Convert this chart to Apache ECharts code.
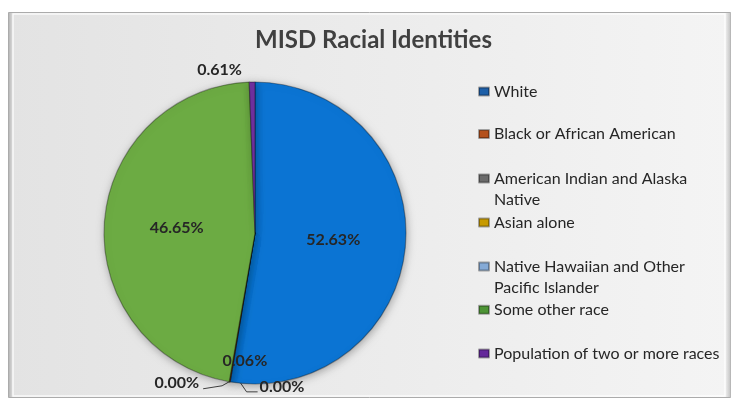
<!DOCTYPE html>
<html><head><meta charset="utf-8">
<script src="https://cdn.jsdelivr.net/npm/echarts@6/dist/echarts.min.js"></script>
<style>html,body{margin:0;padding:0;background:#fff}#c{width:732px;height:400px}</style>
</head><body><div id="c"></div>
<script>
// ---- data ----
const chartTitle = 'MISD Racial Identities';
const categories = [
  'White',
  'Black or African American',
  'American Indian and Alaska Native',
  'Asian alone',
  'Native Hawaiian and Other Pacific Islander',
  'Some other race',
  'Population of two or more races'
];
const percentValues = [52.63, 0.06, 0.00, 0.05, 0.00, 46.65, 0.61];

// ---- styles / layout ----
const sliceColors = ['#0b74d3', '#c0561f', '#7f7f7f', '#d4a600', '#8db4e2', '#6cab43', '#7030a0'];
const legendIconColors = ['#1d5fa8', '#b4501c', '#6b6b6b', '#c79a00', '#85aad6', '#4d9435', '#64289a'];
const FONT = 'Lato, "Open Sans", sans-serif';
const legendTops = [81, 123.6, 168, 212, 256, 299.3, 343];
const wrapped = {2: 'American Indian and Alaska\nNative', 4: 'Native Hawaiian and Other\nPacific Islander'};
// square in the top of a taller box, so the icon lines up with the first text line
const topAlignedIcon = 'path://M0,0L10,0L10,8L0,8Z M0,29';

const chart = echarts.init(document.getElementById('c'), null, {renderer: 'canvas'});

const legends = categories.map((name, i) => ({
  orient: 'vertical', left: 478, top: legendTops[i], padding: 0,
  itemWidth: 10, itemHeight: wrapped[i] ? 29 : 8,
  icon: wrapped[i] ? topAlignedIcon : 'rect', selectedMode: false,
  data: [{name: name, itemStyle: {color: legendIconColors[i]}}],
  formatter: (n) => wrapped[i] ? wrapped[i] : n,
  textStyle: {fontFamily: FONT, fontSize: 16, color: '#262626', lineHeight: 21}
}));

const perItem = {
  0: {label: {position: 'inside'}, labelLine: {show: false}},
  5: {label: {position: 'inside'}, labelLine: {show: false}},
  6: {labelLine: {show: false}},
  3: {label: {show: false}, labelLine: {show: false}}
};

const pieData = categories.map((name, i) => Object.assign({
  name: name, value: percentValues[i], itemStyle: {color: sliceColors[i]}
}, perItem[i] || {}));

const option = {
  animation: false,
  graphic: [
    {type: 'rect', z: -10, silent: true, shape: {x: 8.5, y: 12.5, width: 722, height: 385},
     style: {fill: {type: 'linear', x: 0, y: 0, x2: 1, y2: 0,
       colorStops: [{offset: 0, color: '#e3e3e3'}, {offset: 1, color: '#f4f4f4'}]},
       stroke: '#ababab', lineWidth: 1}},
    {type: 'rect', z: -9, silent: true, shape: {x: 9, y: 13, width: 4, height: 384},
     style: {fill: {type: 'linear', x: 0, y: 0, x2: 1, y2: 0,
       colorStops: [{offset: 0, color: '#b8b8b8'}, {offset: 1, color: '#e0e0e0'}]}}},
    {type: 'rect', z: -9, silent: true, shape: {x: 725, y: 13, width: 5.5, height: 384},
     style: {fill: {type: 'linear', x: 0, y: 0, x2: 1, y2: 0,
       colorStops: [{offset: 0, color: '#f2f2f2'}, {offset: 1, color: '#c4c4c4'}]}}},
    {type: 'rect', z: -9, silent: true, shape: {x: 13, y: 14, width: 712, height: 382},
     style: {fill: 'none', stroke: 'rgba(255,255,255,0.8)', lineWidth: 1.5}}
  ],
  title: {
    text: chartTitle, left: 255, top: 28, padding: 0,
    textStyle: {fontFamily: FONT, fontWeight: 'bold', fontSize: 24, color: '#404040'}
  },
  legend: legends,
  series: [{
    type: 'pie',
    center: [255, 233], radius: 151,
    startAngle: 90, clockwise: true,
    avoidLabelOverlap: false,
    emphasis: {disabled: true},
    itemStyle: {borderColor: 'rgba(0,0,0,0.32)', borderWidth: 1.2,
                shadowBlur: 8, shadowColor: 'rgba(0,0,0,0.3)', shadowOffsetX: 1, shadowOffsetY: 2},
    label: {show: true, position: 'outside',
            formatter: (p) => p.value.toFixed(2) + '%',
            fontFamily: FONT, fontWeight: 'bold', fontSize: 16, color: '#262626'},
    labelLine: {show: true, length: 12, length2: 5, lineStyle: {color: '#404040', width: 1}},
    labelLayout: function (p) {
      const pts = p.labelLinePoints;
      if (!pts) return {};
      const a = pts[0];
      const i = p.dataIndex;
      if (i === 1) return {x: a[0] + 15, y: a[1] - 21, align: 'center', verticalAlign: 'middle',
                           labelLinePoints: [[a[0], a[1]], [a[0], a[1]], [a[0], a[1]]]};
      if (i === 2) return {x: a[0] + 30, y: a[1] + 5, align: 'left', verticalAlign: 'middle',
                           labelLinePoints: [[a[0] + 2, a[1] - 12], [a[0] + 17, a[1] + 10], [a[0] + 28, a[1] + 10]]};
      if (i === 4) return {x: a[0] - 30, y: a[1] + 1, align: 'right', verticalAlign: 'middle',
                           labelLinePoints: [[a[0], a[1]], [a[0] - 7, a[1] + 4], [a[0] - 26, a[1] + 7]]};
      return {};
    },
    data: pieData
  }]
};
chart.setOption(option);
</script>
</body></html>
